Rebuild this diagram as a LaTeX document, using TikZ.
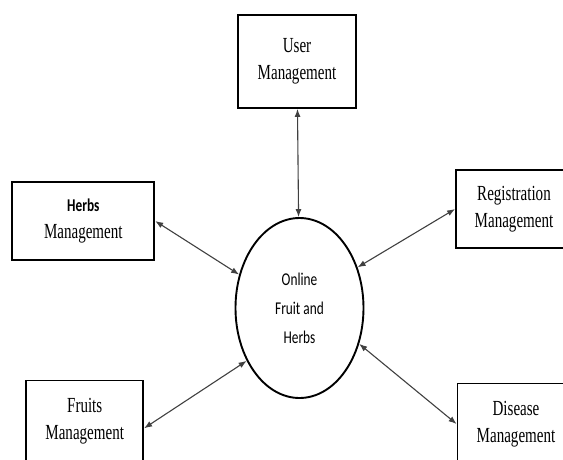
\documentclass[tikz,border=0pt]{standalone}
\usepackage{fontspec}
\setmainfont{Liberation Serif}[FakeStretch=0.70]
\newfontfamily\calfont{Carlito}[FakeStretch=0.74]
\usetikzlibrary{arrows.meta,shapes.geometric}
\tikzset{
	module/.style={draw, line width=1.8pt, rectangle, inner sep=0pt, align=center, font=\fontsize{21.5}{27}\selectfont},
	hubnode/.style={draw, line width=1.9pt, ellipse, inner sep=0pt, minimum width=128pt, minimum height=180pt, align=center, font=\calfont\fontsize{18}{29}\selectfont},
	link/.style={black!75, line width=1.1pt, {Latex[length=8pt,width=6pt]}-{Latex[length=8pt,width=6pt]}}
}

\begin{document}
\begin{tikzpicture}[x=1pt, y=-1pt]
			%%%%% START %%%%%
			\useasboundingbox (0, 0) rectangle (563, 459);
			
			\node[hubnode] (hub) at (299.5, 308) {Online\\Fruit and\\Herbs};
			
			\node[module, minimum width=118pt, minimum height=93pt] (user) at (297, 61.5) {User\\Management};
			\node[module, minimum width=142pt, minimum height=78pt] (herbs) at (83.3, 221) {{\calfont\bfseries\fontsize{18}{24}\selectfont Herbs}\\Management};
			\node[module, minimum width=116pt, minimum height=78pt] (registration) at (514, 209) {Registration\\Management};
			\node[module, minimum width=117pt, minimum height=81pt] (fruits) at (84.7, 421) {Fruits\\Management};
			\node[module, minimum width=117pt, minimum height=81pt] (disease) at (516, 424) {Disease\\Management};
			
			\draw[link] (user) -- (hub);
			\draw[link] (herbs.east) -- (hub.151);
			\draw[link] (registration.west) -- (hub.35);
			\draw[link] (fruits.-7) -- (hub.225);
			\draw[link] (disease.west) -- (hub.-31);
			%%%%% END %%%%%
\end{tikzpicture}
\end{document}
